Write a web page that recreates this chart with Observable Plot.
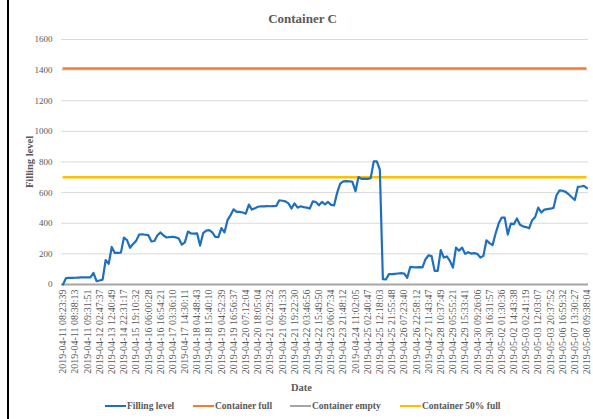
<!DOCTYPE html>
<html>
<head>
<meta charset="utf-8">
<script src="https://cdn.jsdelivr.net/npm/d3@7"></script>
<script src="https://cdn.jsdelivr.net/npm/@observablehq/plot@0.6"></script>
<style>
  html, body { margin: 0; padding: 0; background: #fff; }
  #wrap { position: relative; width: 593px; height: 419px; overflow: hidden; font-family: "Liberation Serif", serif; color: #595959; }
  #border { position: absolute; left: 7px; top: 0; width: 2px; height: 419px; background: #000; }
  #title { position: absolute; top: 11px; left: 0; width: 605px; text-align: center; font-weight: bold; font-size: 13px; }
  #ylab { position: absolute; left: 29px; top: 162px; transform: translate(-50%, -50%) rotate(-90deg); font-weight: bold; font-size: 10.5px; white-space: nowrap; }
  #xlab { position: absolute; top: 382px; left: 0; width: 603px; text-align: center; font-weight: bold; font-size: 10.5px; }
  #legend { position: absolute; top: 401px; left: 0; width: 593px; height: 14px; font-weight: bold; font-size: 9.5px; }
  .item { position: absolute; top: 0; white-space: nowrap; display: flex; align-items: center; }
  .sw { display: inline-block; width: 21px; height: 2.5px; margin-right: 1px; }
  #chart { position: absolute; left: 0; top: 0; }
  #chart svg g[aria-label="x-axis tick label"] text { font-size: 10px; }
</style>
</head>
<body>
<div id="wrap">
  <div id="chart"></div>
  <div id="border"></div>
  <div id="title">Container C</div>
  <div id="ylab">Filling level</div>
  <div id="xlab">Date</div>
  <div id="legend"></div>
</div>
<script>
const dateLabels = [
  "2019-04-11 08:23:39","2019-04-11 08:38:13","2019-04-11 09:31:51","2019-04-12 02:47:37",
  "2019-04-13 12:40:49","2019-04-14 22:31:17","2019-04-15 19:10:32","2019-04-16 06:00:28",
  "2019-04-16 16:54:21","2019-04-17 03:36:10","2019-04-17 14:30:11","2019-04-18 04:48:43",
  "2019-04-18 15:40:10","2019-04-19 04:52:39","2019-04-19 16:56:37","2019-04-20 07:12:04",
  "2019-04-20 18:05:04","2019-04-21 02:29:32","2019-04-21 09:41:33","2019-04-21 19:22:30",
  "2019-04-22 03:46:56","2019-04-22 15:49:50","2019-04-23 06:07:34","2019-04-23 21:48:12",
  "2019-04-24 11:02:05","2019-04-25 02:40:47","2019-04-25 12:18:03","2019-04-25 21:55:48",
  "2019-04-26 07:23:40","2019-04-26 22:58:12","2019-04-27 11:43:47","2019-04-28 10:37:49",
  "2019-04-29 05:55:21","2019-04-29 15:33:41","2019-04-30 09:26:06","2019-04-30 16:31:57",
  "2019-05-02 01:30:36","2019-05-02 14:43:38","2019-05-03 02:41:19","2019-05-03 12:03:07",
  "2019-05-03 20:37:52","2019-05-06 16:59:32","2019-05-07 13:30:27","2019-05-08 09:38:04"
];
const labelEvery = 4;

const fillingLevel = [
  0, 42, 43, 43, 44, 45, 46, 46, 47, 46,
  76, 22, 26, 32, 160, 135, 245, 206, 206, 208,
  307, 290, 240, 265, 285, 326, 328, 325, 322, 282,
  284, 322, 340, 320, 307, 310, 312, 308, 300, 260,
  275, 346, 333, 332, 334, 254, 335, 352, 355, 340,
  311, 310, 368, 340, 420, 453, 491, 474, 474, 470,
  463, 522, 489, 498, 508, 511, 510, 512, 511, 512,
  513, 550, 547, 543, 530, 496, 530, 502, 511, 505,
  502, 496, 543, 539, 517, 539, 524, 539, 520, 517,
  600, 659, 674, 675, 674, 670, 609, 702, 690, 692,
  690, 695, 804, 804, 750, 35, 33, 68, 68, 70,
  72, 74, 72, 44, 115, 113, 112, 113, 112, 165,
  191, 185, 89, 89, 224, 176, 183, 154, 110, 241,
  220, 241, 200, 211, 202, 205, 200, 176, 187, 289,
  270, 257, 333, 398, 437, 437, 326, 398, 394, 431,
  390, 380, 375, 367, 420, 441, 502, 470, 489, 492,
  495, 500, 583, 615, 612, 605, 589, 570, 552, 637,
  640, 644, 630
];
const containerFull = 1410;
const containerEmpty = 0;
const containerHalf = 700;

const seriesNames = ["Filling level", "Container full", "Container empty", "Container 50% full"];
const seriesColors = ["#1f6fbf", "#ed7d31", "#a5a5a5", "#ffc000"];
const yTicks = [0, 200, 400, 600, 800, 1000, 1200, 1400, 1600];

const N = fillingLevel.length;
const pts = fillingLevel.map((v, i) => ({i, v}));
const tickIdx = dateLabels.map((d, k) => k * labelEvery);

const chart = Plot.plot({
  width: 593,
  height: 419,
  marginLeft: 61,
  marginRight: 5,
  marginTop: 39,
  marginBottom: 135,
  style: {fontFamily: "Liberation Serif, serif", fontSize: "9px", color: "#595959", background: "transparent"},
  x: {domain: [-0.5, N - 0.5], ticks: tickIdx, tickFormat: i => dateLabels[i / labelEvery], tickRotate: -90, tickSize: 0, tickPadding: 5, label: null},
  y: {domain: [0, 1600], ticks: yTicks, tickFormat: d => String(d), tickSize: 0, tickPadding: 9, label: null},
  marks: [
    Plot.gridY(yTicks, {stroke: "#d9d9d9", strokeOpacity: 1, strokeWidth: 1}),
    Plot.ruleY([containerEmpty], {x1: -0.5, x2: N - 0.5, stroke: seriesColors[2], strokeWidth: 2}),
    Plot.ruleY([containerFull], {x1: 0, x2: N - 1, stroke: seriesColors[1], strokeWidth: 2.5}),
    Plot.ruleY([containerHalf], {x1: 0, x2: N - 1, stroke: seriesColors[3], strokeWidth: 2.5}),
    Plot.line(pts, {x: "i", y: "v", stroke: seriesColors[0], strokeWidth: 2.2, curve: "linear"})
  ]
});
document.getElementById("chart").appendChild(chart);

const legendPos = [105, 193, 290, 400];
const legend = document.getElementById("legend");
seriesNames.forEach((name, k) => {
  const it = document.createElement("div");
  it.className = "item";
  it.style.left = legendPos[k] + "px";
  const sw = document.createElement("span");
  sw.className = "sw";
  sw.style.background = seriesColors[k];
  it.appendChild(sw);
  const t = document.createElement("span");
  t.textContent = name;
  it.appendChild(t);
  legend.appendChild(it);
});
</script>
</body>
</html>
